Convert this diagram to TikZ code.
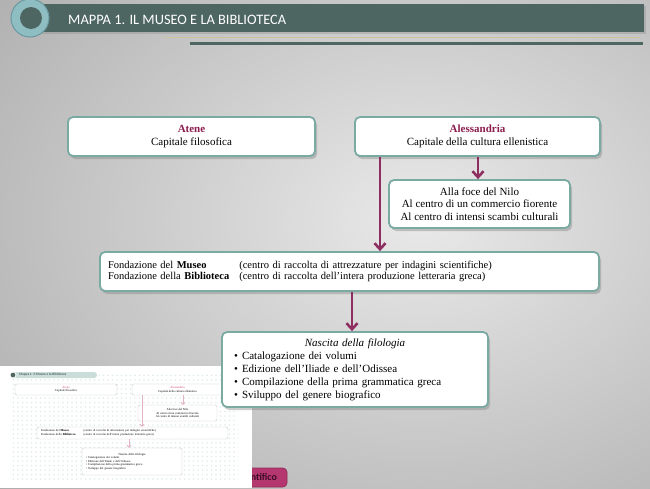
\documentclass[tikz,border=0pt]{standalone}
\usepackage{fontspec}
\setmainfont{Liberation Serif}
\newfontfamily\headfont{Carlito}
\usetikzlibrary{arrows.meta,shadows,patterns.meta}

\definecolor{slate}{HTML}{4E6661}
\definecolor{ringcol}{HTML}{8FBEC2}
\definecolor{ringedge}{HTML}{6B98A0}
\definecolor{tanline}{HTML}{CDC29E}
\definecolor{boxline}{HTML}{7BAAA2}
\definecolor{wine}{HTML}{8C1D4E}
\definecolor{arrowcol}{HTML}{8E2D5F}
\definecolor{bglight}{HTML}{E9E9E9}
\definecolor{bgdark}{HTML}{9C9C9C}
\definecolor{dotcol}{HTML}{DDECEA}
\definecolor{pillcol}{HTML}{CADDD9}
\definecolor{tpink}{HTML}{D2467F}
\definecolor{tarrow}{HTML}{E4B3C8}
\definecolor{tabcol}{HTML}{B5376F}
\definecolor{tabtext}{HTML}{3D0B27}

\begin{document}
\begin{tikzpicture}
  [x=1pt,y=-1pt,
   box/.style={draw=boxline,line width=1.8pt,fill=white,rounded corners=5pt,
     drop shadow={shadow xshift=2pt,shadow yshift=-3pt,opacity=.4},
     font=\fontsize{11}{12.5}\selectfont,align=center,inner sep=0pt},
   flow/.style={arrowcol,line width=2.6pt,-{Straight Barb[length=6pt,width=11pt]}},
   tbox/.style={draw=black!20,line width=.4pt,fill=white,rounded corners=1.5pt,
     font=\fontsize{3}{3.6}\selectfont,align=center,inner sep=0pt},
   tflow/.style={tarrow,line width=1pt,-{Straight Barb[length=1.8pt,width=4pt]}}]

  \useasboundingbox (0,0) rectangle (650,488);
  \begin{scope}
    \clip (0,0) rectangle (650,488);
    \shade[inner color=bglight,outer color=bgdark] (-300,-300) rectangle (1140,740);
  \end{scope}

  % header
  \fill[slate,drop shadow={opacity=.3}] (40,4) rectangle (644,32);
  \filldraw[fill=ringcol,draw=ringedge,line width=1pt] (30,18) circle[radius=19pt];
  \fill[slate] (31,18) circle[radius=11pt];
  \node[anchor=base west,text=white,inner sep=0pt,
    font=\headfont\fontsize{14.4}{16}\selectfont] (head) at (68,24) {MAPPA 1. IL MUSEO E LA BIBLIOTECA};
  \draw[tanline,line width=1.5pt] (163,37.5) -- (640,37.5);
  \draw[slate,line width=2.5pt] (190,43.5) -- (643,43.5);

  % tab under the thumbnail
  \node[fill=tabcol,draw=tabcol!80!black,line width=.6pt,rounded corners=4pt,text=tabtext,
    font=\headfont\bfseries\fontsize{10}{12}\selectfont,text width=37pt,inner xsep=5pt,
    align=right,minimum height=19pt] (tab) at (263.5,477.5) {ntifico\kern5pt};

  % thumbnail
  \fill[white] (0,366) rectangle (252,488);
  \fill[pattern={Dots[distance=4.5pt,radius=.8pt]},pattern color=dotcol] (10,372) rectangle (238,480);
  \node[fill=pillcol,rounded corners=3pt,minimum width=87pt,minimum height=6pt,inner sep=0pt] (tpill) at (53.5,375) {};
  \node[anchor=west,inner sep=0pt,text=slate,
    font=\headfont\bfseries\fontsize{3.4}{4}\selectfont] (thead) at (19,375) {Mappa 1. Il Museo e la Biblioteca};
  \filldraw[fill=slate,draw=white,line width=.8pt] (13,375) circle[radius=3pt];

  \node[tbox,minimum width=102pt,minimum height=11pt] (tatene) at (66,389.5) {\textcolor{tpink}{Atene}\\Capitale filosofica};
  \node[tbox,minimum width=91pt,minimum height=11pt] (talex) at (177.5,389.5) {\textcolor{tpink}{Alessandria}\\Capitale della cultura ellenistica};
  \node[tbox,minimum width=79pt,minimum height=16pt] (tnilo) at (177.5,413) {Alla foce del Nilo\\Al centro di un commercio fiorente\\Al centro di intensi scambi culturali};
  \node[tbox,minimum width=191pt,minimum height=12pt,text width=183pt,align=left] (tfond) at (132.5,433)
    {\begin{tabular}{@{}l@{\hspace{8pt}}l@{}}
      Fondazione del \textbf{Museo} & (centro di raccolta di attrezzature per indagini scientifiche)\\
      Fondazione della \textbf{Biblioteca} & (centro di raccolta dell’intera produzione letteraria greca)
    \end{tabular}};
  \node[tbox,minimum width=100pt,minimum height=27pt,text width=92pt,align=left] (tnasc) at (132,461.5)
    {{\centering Nascita della filologia\par}
     \textbullet\ Catalogazione dei volumi\\
     \textbullet\ Edizione dell’Iliade e dell’Odissea\\
     \textbullet\ Compilazione della prima grammatica greca\\
     \textbullet\ Sviluppo del genere biografico};

  \foreach \from/\to/\dx in {talex/tfond/-35.5,talex/tnilo/5.5,tfond/tnasc/-3.5}{
    \coordinate (s) at ([xshift=\dx pt]\from.south);
    \draw[tflow] (s) -- (s |- \to.north);
  }

  % map
  \node[box,minimum width=247pt,minimum height=39pt] (atene) at (191.5,136.5)
    {\textcolor{wine}{\textbf{Atene}}\\Capitale filosofica};
  \node[box,minimum width=245pt,minimum height=39pt] (alex) at (477.5,136.5)
    {\textcolor{wine}{\textbf{Alessandria}}\\Capitale della cultura ellenistica};
  \node[box,minimum width=181pt,minimum height=48pt] (nilo) at (479.5,204)
    {Alla foce del Nilo\\Al centro di un commercio fiorente\\Al centro di intensi scambi culturali};
  \node[box,minimum width=499pt,minimum height=39pt,text width=483pt,align=left,
    font=\fontsize{10.5}{11.5}\selectfont] (fond) at (349.5,271.5)
    {\begin{tabular}{@{}l@{\hspace{10pt}}l@{}}
      Fondazione del \textbf{Museo} & (centro di raccolta di attrezzature per indagini scientifiche)\\
      Fondazione della \textbf{Biblioteca} & (centro di raccolta dell’intera produzione letteraria greca)
    \end{tabular}};
  \node[box,minimum width=266pt,minimum height=75pt,text width=242pt,align=left,
    font=\fontsize{11}{13}\selectfont] (nasc) at (355,369.5)
    {{\centering\itshape Nascita della filologia\par}
     \makebox[8pt][l]{\textbullet}Catalogazione dei volumi\\
     \makebox[8pt][l]{\textbullet}Edizione dell’Iliade e dell’Odissea\\
     \makebox[8pt][l]{\textbullet}Compilazione della prima grammatica greca\\
     \makebox[8pt][l]{\textbullet}Sviluppo del genere biografico};

  \foreach \from/\to/\dx in {alex/fond/-97.5,alex/nilo/0.5,fond/nasc/2.5}{
    \coordinate (s) at ([xshift=\dx pt]\from.south);
    \draw[flow] (s) -- (s |- \to.north);
  }
\end{tikzpicture}
\end{document}
